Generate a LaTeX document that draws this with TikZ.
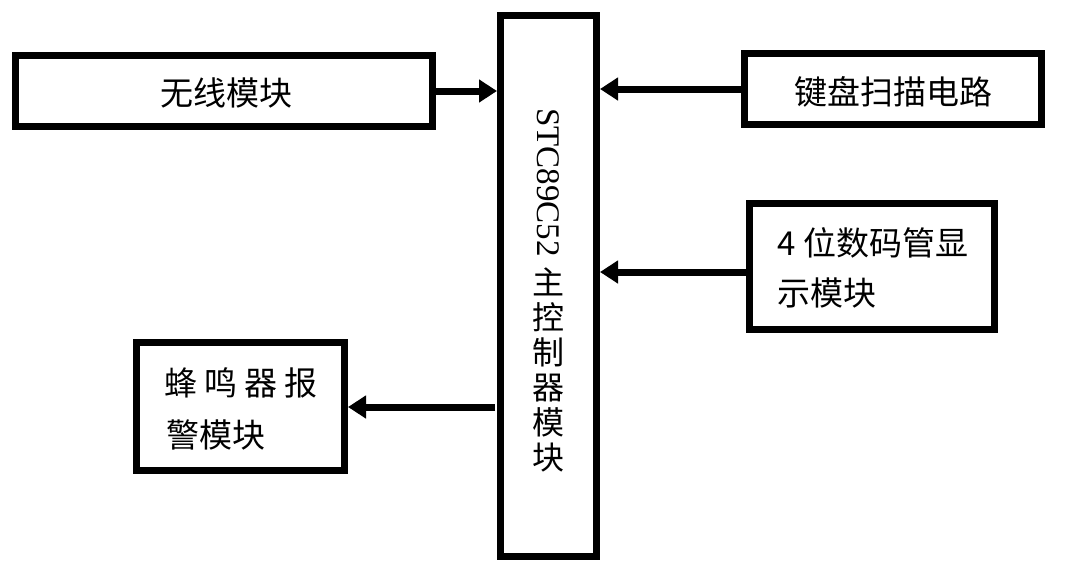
\documentclass[tikz,border=0pt]{standalone}
\usepackage{fontspec}
\setmainfont{Liberation Serif}
\newfontfamily\cjk{Noto Sans CJK SC}
\usetikzlibrary{arrows.meta}
\begin{document}
\begin{tikzpicture}[x=1pt,y=-1pt,
  box/.style={draw=black,line width=7pt,inner sep=0pt,fill=white},
  arr/.style={line width=7pt,-{Triangle[length=18pt,width=22pt]}},
  zh/.style={font=\cjk\fontsize{33}{40}\selectfont,inner sep=0pt}]
\useasboundingbox[fill=white] (0,0) rectangle (1069,581);
% boxes
\node[box,minimum width=417pt,minimum height=71pt] (wire) at (224,91) {};
\node[box,minimum width=96pt,minimum height=541pt] (main) at (548.5,286) {};
\node[box,minimum width=297pt,minimum height=71pt] (key) at (893,89) {};
\node[box,minimum width=245pt,minimum height=126pt] (digit) at (872,266.5) {};
\node[box,minimum width=208pt,minimum height=128pt] (buzz) at (240.5,406.5) {};
% texts
\node[zh,anchor=base] (wiretxt) at (226,105) {无线模块};
\node[zh,anchor=base] (keytxt) at (893,104) {键盘扫描电路};
\node[zh,anchor=base west] (d1) at (777,255) {4\hspace{8pt}位数码管显};
\node[zh,anchor=base west] (d2) at (777,305) {示模块};
\node[zh,anchor=base west] (b1) at (164,395) {蜂\hspace{7pt}鸣\hspace{7pt}器\hspace{7pt}报};
\node[zh,anchor=base west] (b2) at (166,447) {警模块};
\node[font=\fontsize{33}{40}\selectfont,inner sep=0pt,rotate=-90,anchor=west] (mainen) at (548.5,108) {STC89C52};
\node[zh,font=\cjk\fontsize{32}{35}\selectfont,align=center,anchor=north] (mainzh) at (548.5,268) {主\\控\\制\\器\\模\\块};
% connectors
\coordinate (ydig) at (0,272);
\coordinate (ybuz) at (0,407);
\draw[arr] (wire.east) -- (main.west |- wire.east);
\draw[arr] (key.west) -- (main.east |- key.west);
\draw[arr] (digit.west |- ydig) -- (main.east |- ydig);
\draw[arr] ([xshift=-2pt]main.west |- ybuz) -- (buzz.east |- ybuz);
\end{tikzpicture}
\end{document}
